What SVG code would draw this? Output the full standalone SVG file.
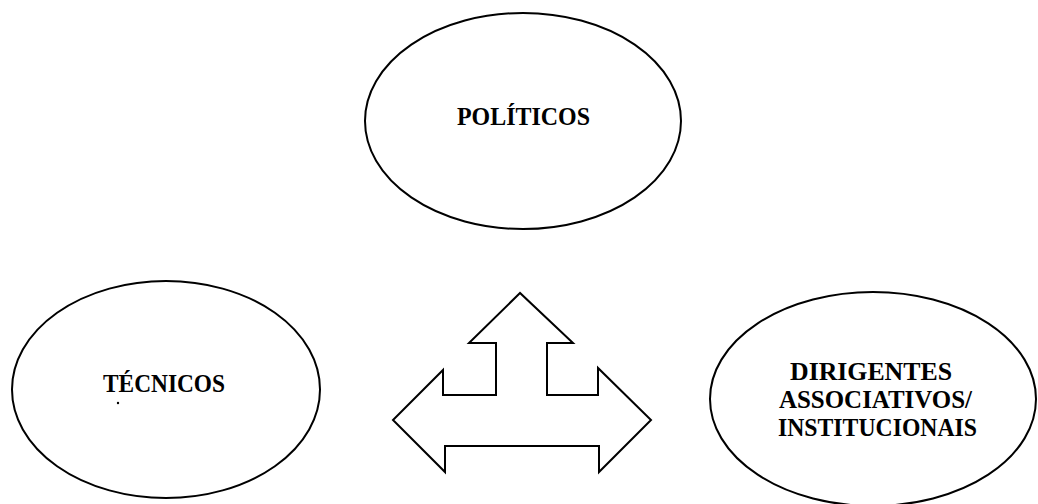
<svg xmlns="http://www.w3.org/2000/svg" width="1038" height="504" viewBox="0 0 1038 504">
<style>
.node{fill:#fff;stroke:#000;stroke-width:2}
.lbl{font-family:"Liberation Serif","Times New Roman",serif;font-weight:bold;font-size:25px;fill:#000;text-anchor:middle}
.arrow{fill:#fff;stroke:#000;stroke-width:2;stroke-linejoin:miter}
</style>
<rect width="1038" height="504" fill="#fff"/>
<g id="politicos">
<ellipse class="node" cx="523" cy="121" rx="158" ry="108"/>
<text class="lbl" x="523.5" y="125" textLength="133" lengthAdjust="spacingAndGlyphs">POLÍTICOS</text>
</g>
<g id="tecnicos">
<ellipse class="node" cx="166" cy="389.5" rx="154" ry="108.5"/>
<text class="lbl" x="164" y="392" textLength="122" lengthAdjust="spacingAndGlyphs">TÉCNICOS</text>
<circle cx="118" cy="403" r="1.2" fill="#000"/>
</g>
<g id="dirigentes">
<ellipse class="node" cx="873" cy="399" rx="163" ry="107"/>
<text class="lbl" x="871" y="380" textLength="162" lengthAdjust="spacingAndGlyphs">DIRIGENTES</text>
<text class="lbl" x="875.5" y="408" textLength="193" lengthAdjust="spacingAndGlyphs">ASSOCIATIVOS/</text>
<text class="lbl" x="877.5" y="436" textLength="199" lengthAdjust="spacingAndGlyphs">INSTITUCIONAIS</text>
</g>
<g id="connectors">
<path class="arrow" d="M520,293 L469,343 L496,343 L496,395 L443,395 L443,370 L393,420 L445,472 L445,446 L599,446 L599,472 L651,420 L598,368 L598,395 L547,395 L547,343 L573,343 Z"/>
</g>
</svg>
